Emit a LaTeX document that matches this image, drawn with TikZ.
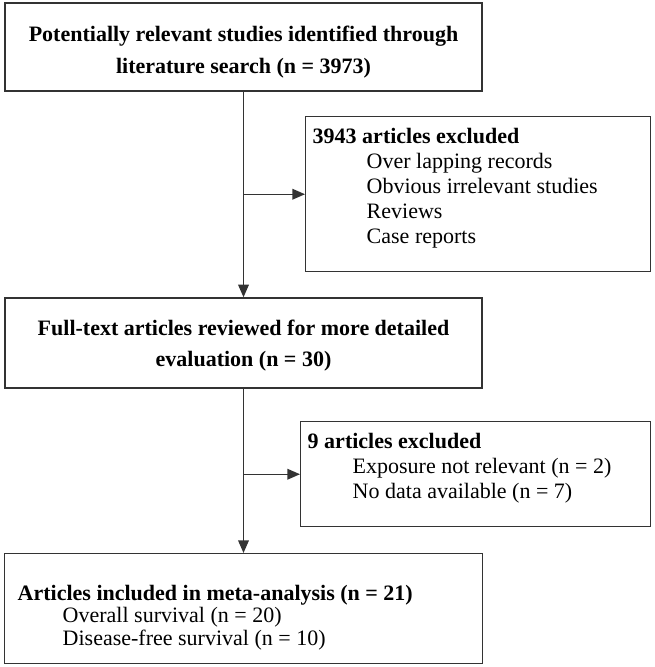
\documentclass[tikz,border=0pt]{standalone}
\usepackage{fontspec}
\setmainfont{Liberation Serif}
\usetikzlibrary{arrows.meta}

% text block held at the top of a box of fixed size
\newcommand{\listtext}[3]{\parbox[c][#2][t]{#1}{#3}}

\begin{document}
\begin{tikzpicture}[x=0.75pt,y=-0.75pt,line width=1.1pt,
    >={Triangle[length=9.5pt,width=8pt]},
    mainbox/.style={draw=black!80,align=center,minimum width=357.75pt,
      font=\fontsize{16.5}{18}\selectfont\bfseries},
    listbox/.style={draw=black!80,anchor=north west,inner sep=0pt,
      font=\fontsize{16.5}{18.75}\selectfont}]
  \useasboundingbox (0,0) rectangle (654,667);

  \node[mainbox,minimum height=66pt,text height=44pt] (search) at (243.5,47)
    {Potentially relevant studies identified through\\[6pt]
     literature search (n = 3973)};

  \node[listbox] (excl1) at (305,116) {\listtext{258.75pt}{116.25pt}{%
    \vspace*{8.3pt}\hspace*{5.25pt}\textbf{3943 articles excluded}\\
    \hspace*{45.75pt}Over lapping records\\
    \hspace*{45.75pt}Obvious irrelevant studies\\
    \hspace*{45.75pt}Reviews\\
    \hspace*{45.75pt}Case reports}};

  \node[mainbox,minimum height=67.5pt,text height=38.7pt] (full) at (243.5,343)
    {Full-text articles reviewed for more detailed\\[5pt]
     evaluation (n = 30)};

  \node[listbox] (excl2) at (300,421) {\listtext{262.5pt}{78.75pt}{%
    \vspace*{8.3pt}\hspace*{5.25pt}\textbf{9 articles excluded}\\
    \hspace*{39pt}Exposure not relevant (n = 2)\\
    \hspace*{39pt}No data available (n = 7)}};

  \node[listbox] (incl) at (4,553) {\listtext{358.5pt}{82.5pt}{%
    \fontsize{16.5}{17}\selectfont
    \vspace*{23.3pt}\hspace*{9.75pt}\textbf{Articles included in meta-analysis (n = 21)}\\
    \hspace*{43.5pt}Overall survival (n = 20)\\
    \hspace*{43.5pt}Disease-free survival (n = 10)}};

  \coordinate (j1) at (search.south |- excl1.west);
  \coordinate (j2) at (full.south |- excl2.west);

  \draw[draw=black!80,->] (search) -- (full);
  \draw[draw=black!80,->] (j1) -- (excl1.west);
  \draw[draw=black!80,->] (full) -- (incl.north -| full.south);
  \draw[draw=black!80,->] (j2) -- (excl2.west);
\end{tikzpicture}
\end{document}
